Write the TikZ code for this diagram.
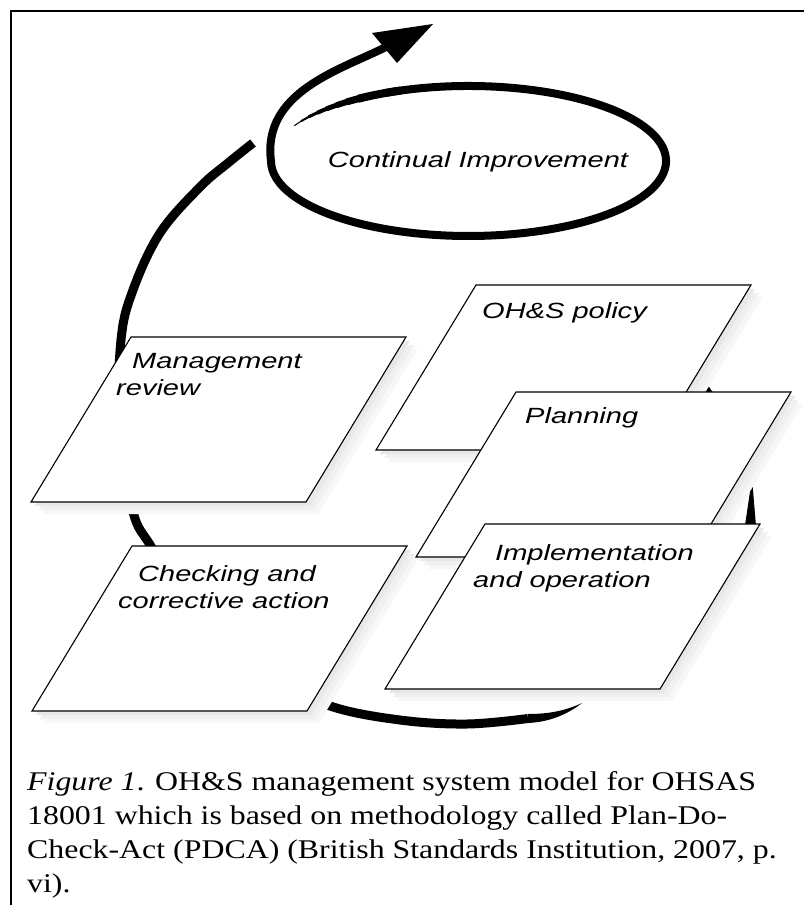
\documentclass[tikz,border=0pt]{standalone}
\usepackage{fontspec}
\setmainfont{Liberation Serif}
\newfontfamily\cardfont[FakeStretch=1.32]{Liberation Sans}
\newfontfamily\capfont[FakeStretch=1.18]{Liberation Serif}
\usepackage{tikz}

\begin{document}
\begin{tikzpicture}[x=1pt,y=-1pt,
	card/.style={draw,fill=white,line width=1.1pt},
	cardtext/.style={font=\cardfont\itshape\fontsize{22}{27}\selectfont,align=left,inner sep=0pt,anchor=north west},
	loopline/.style={line width=9pt}]
	\useasboundingbox (0,0) rectangle (804,909);
	\draw[line width=1.5pt] (804,11) -- (11,11) -- (11,905);
	% big loop, runs under the cards
	\draw[loopline] plot[smooth,tension=0.6] coordinates {(528,718.5) (467,724) (400,720) (330,706) (263,675) (197,620) (152,548) (133,512) (119,430) (121,340) (133,290) (160,233) (200,187) (228,163) (253,143)};
	\fill (582,703) .. controls (565,711) and (548,714) .. (528,714) -- (528,723) .. controls (550,722) and (568,714) .. (582,703) -- cycle;
	\fill (752,478) -- (756.5,532) -- (744,532) -- cycle;
	\fill (707,384) -- (714,394) -- (701,394) -- cycle;
	% spiral round the ellipse and out to the arrow
	\foreach \w in {1,...,8}
		\draw[line width=\w pt] ({468.5+197.5*cos(204+4*\w)},{161+75*sin(204+4*\w)}) arc[start angle={204+4*\w},end angle=250,x radius=197.5,y radius=75];
	\draw[line width=8pt] ({468.5+197.5*cos(245)},{161+75*sin(245)}) arc[start angle=245,end angle=540,x radius=197.5,y radius=75] .. controls (262,92) and (340,70) .. (386,47);
	\fill (433,24) -- (372,33) -- (397,63) -- cycle;
	\node[font=\cardfont\itshape\fontsize{22}{27}\selectfont,anchor=base] (ci) at (478,168) {Continual Improvement};
	% cards with their shadows
	\foreach \px/\py in {476/285,516/392,485/524,131/337,132/546}{
		\foreach \d/\g in {12/3,8/6,4/9}
			\fill[black!\g] (\px+\d,\py+\d) -- ++(275,0) -- ++(-100,165) -- ++(-275,0) -- cycle;
		\draw[card] (\px,\py) -- ++(275,0) -- ++(-100,165) -- ++(-275,0) -- cycle;
	}
	\node[cardtext] (policy) at (482,302) {OH\&S policy};
	\node[cardtext] (planning) at (525,407) {Planning};
	\node[cardtext] (impl) at (473,544) {\hspace*{22pt}Implementation\\and operation};
	\node[cardtext] (review) at (116,353) {\hspace*{16pt}Management\\review};
	\node[cardtext] (check) at (118,565) {\hspace*{20pt}Checking and\\corrective action};
	\node[font=\capfont\fontsize{27}{34}\selectfont,align=left,inner sep=0pt,anchor=north west] (caption) at (27,771) {\textit{Figure 1}. OH\&S management system model for OHSAS\\18001 which is based on methodology called Plan-Do-\\Check-Act (PDCA) (British Standards Institution, 2007, p.\\vi).};
\end{tikzpicture}
\end{document}
